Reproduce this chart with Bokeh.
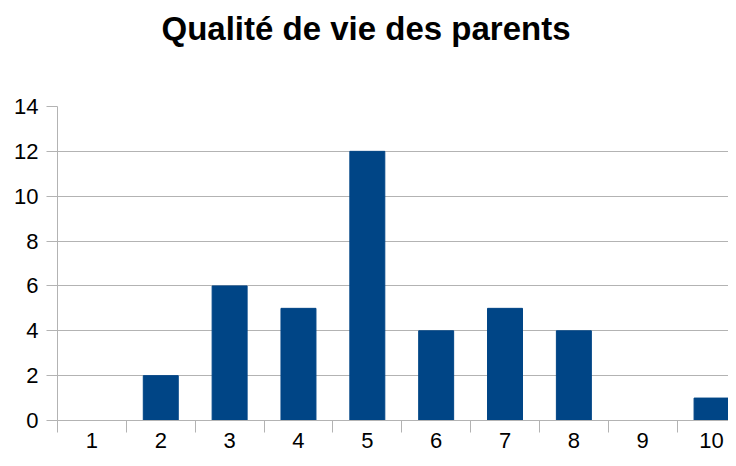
from bokeh.plotting import figure
from bokeh.models import Range1d, FixedTicker, ColumnDataSource, Title
from bokeh.embed import file_html
from bokeh.resources import INLINE

# Data
categories = ["1", "2", "3", "4", "5", "6", "7", "8", "9", "10"]
counts = [0, 2, 6, 5, 12, 4, 5, 4, 0, 1]
y_ticks = [0, 2, 4, 6, 8, 10, 12, 14]
title_text = "Qualité de vie des parents"

xpos = list(range(1, len(categories) + 1))
src = ColumnDataSource(dict(x=xpos, top=counts))

GRAY = "#b3b3b3"
FONT = "Liberation Sans"

p = figure(width=728, height=458, output_backend="svg", toolbar_location=None,
           x_range=Range1d(0.5, 10.246), y_range=Range1d(0, 14),
           min_border_left=57, min_border_right=0, min_border_top=106,
           min_border_bottom=38)
p.outline_line_color = None

p.vbar(x="x", top="top", width=0.508, source=src, color="#004586")

# spacer between title and plot area, then the title itself
spacer = Title(text=" ", text_font_size="8px", standoff=44)
main_title = Title(text=title_text, text_font=FONT, text_font_size="33px",
                   text_font_style="bold", text_color="black",
                   align="left", offset=104, standoff=10)
p.add_layout(spacer, "above")
p.add_layout(main_title, "above")

# x axis
p.xaxis.ticker = FixedTicker(ticks=xpos, minor_ticks=[v - 0.5 for v in xpos])
p.xaxis.major_label_overrides = {x: c for x, c in zip(xpos, categories)}
p.xaxis.major_tick_out = 0
p.xaxis.major_tick_in = 0
p.xaxis.minor_tick_out = 12
p.xaxis.minor_tick_in = 0
p.xaxis.minor_tick_line_color = GRAY
p.xaxis.axis_line_color = GRAY
p.xaxis.major_label_text_font = FONT
p.xaxis.major_label_text_font_size = "22px"
p.xaxis.major_label_text_color = "black"
p.xaxis.major_label_standoff = 0
p.xgrid.grid_line_color = None

# y axis
p.yaxis.ticker = FixedTicker(ticks=y_ticks)
p.yaxis.major_tick_out = 11
p.yaxis.major_tick_in = 0
p.yaxis.minor_tick_line_color = None
p.yaxis.major_tick_line_color = GRAY
p.yaxis.axis_line_color = GRAY
p.yaxis.major_label_text_font = FONT
p.yaxis.major_label_text_font_size = "22px"
p.yaxis.major_label_text_color = "black"
p.yaxis.major_label_standoff = 8
p.ygrid.grid_line_color = GRAY
p.ygrid.ticker = FixedTicker(ticks=y_ticks)

open("out.html", "w").write(file_html(p, INLINE))
